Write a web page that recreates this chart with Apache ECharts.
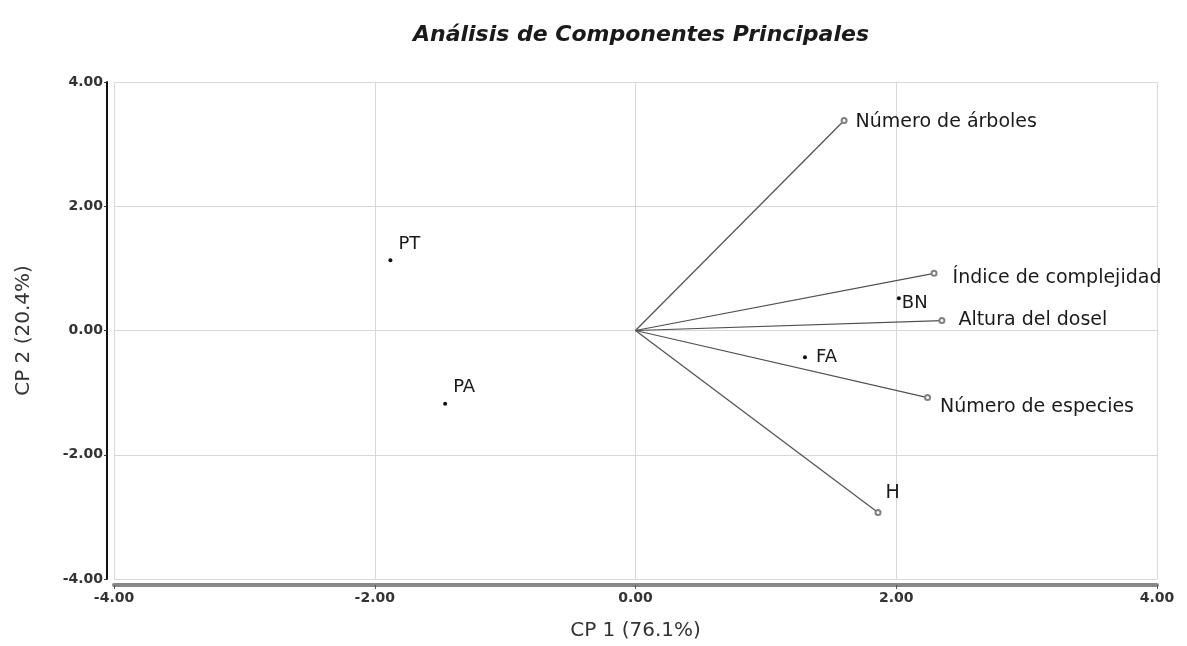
<!DOCTYPE html>
<html>
<head>
<meta charset="utf-8">
<script src="https://cdn.jsdelivr.net/npm/echarts@6/dist/echarts.min.js"></script>
<style>
html,body{margin:0;padding:0;background:#fff;}
#chart{width:1187px;height:646px;}
</style>
</head>
<body>
<div id="chart"></div>
<script>
// Observations (sites)
const obsNames = ['PT', 'PA', 'BN', 'FA'];
const obsX = [-1.88, -1.46, 2.02, 1.30];
const obsY = [1.13, -1.18, 0.52, -0.43];

// Variables (loading vectors)
const varNames = ['Número de árboles', 'Índice de complejidad', 'Altura del dosel', 'Número de especies', 'H'];
const varX = [1.60, 2.29, 2.35, 2.24, 1.86];
const varY = [3.38, 0.92, 0.16, -1.08, -2.93];

const xTicks = [-4, -2, 0, 2, 4];
const yTicks = [-4, -2, 0, 2, 4];

const obsLabelOffsets = [[1, -16], [1, -16], [-4, 5], [4, 0]];
const varLabelOffsets = [[3, 2], [10, 5], [8, 0], [4, 9], [-1, -19]];

const chart = echarts.init(document.getElementById('chart'));
const FONT = '"DejaVu Sans", "Liberation Sans", Arial, sans-serif';

const series = [];
varNames.forEach((n, i) => {
  series.push({
    type: 'line',
    name: n,
    data: [
      { value: [0, 0], symbolSize: 0, label: { show: false } },
      { value: [varX[i], varY[i]], symbolSize: 5,
        label: { show: true, position: 'right', formatter: n, offset: varLabelOffsets[i],
                 color: '#1a1a1a', fontSize: 19, fontFamily: FONT } }
    ],
    symbol: 'emptyCircle',
    showAllSymbol: true,
    lineStyle: { color: '#505050', width: 1.2 },
    itemStyle: { color: '#808080', borderWidth: 1 },
    silent: true,
    z: 2
  });
});
series.push({
  type: 'scatter',
  data: obsX.map((x, i) => ({
    value: [x, obsY[i]],
    label: { show: true, position: 'right', formatter: obsNames[i], offset: obsLabelOffsets[i],
             color: '#1a1a1a', fontSize: 18, fontFamily: FONT }
  })),
  symbol: 'circle',
  symbolSize: 4,
  itemStyle: { color: '#111', opacity: 1 },
  z: 3
});

chart.setOption({
  animation: false,
  backgroundColor: '#fff',
  title: {
    text: 'Análisis de Componentes Principales',
    left: 636, top: 19, textAlign: 'center',
    textStyle: { fontFamily: FONT, fontSize: 22, fontWeight: 'bold', fontStyle: 'italic', color: '#1a1a1a' }
  },
  grid: { left: 114, right: 30, top: 82, bottom: 67, show: false, containLabel: false, outerBoundsMode: 'none' },
  xAxis: {
    type: 'value', min: -4, max: 4, interval: 2,
    offset: 6,
    name: 'CP 1 (76.1%)', nameLocation: 'middle', nameGap: 36,
    nameTextStyle: { fontFamily: FONT, fontSize: 20, color: '#333' },
    axisLine: { show: true, onZero: false, lineStyle: { color: '#888', width: 4 } },
    axisTick: { show: true, length: 4, lineStyle: { color: '#555' } },
    axisLabel: { formatter: v => v.toFixed(2), fontFamily: FONT, fontSize: 14, fontWeight: 'bold', color: '#333', margin: 6 },
    splitLine: { show: true, lineStyle: { color: '#d8d8d8', width: 1 } }
  },
  yAxis: {
    type: 'value', min: -4, max: 4, interval: 2,
    offset: 7,
    name: 'CP 2 (20.4%)', nameLocation: 'middle', nameGap: 73, nameRotate: 90,
    nameTextStyle: { fontFamily: FONT, fontSize: 20, color: '#333' },
    axisLine: { show: true, onZero: false, lineStyle: { color: '#111', width: 2 } },
    axisTick: { show: true, length: 3, lineStyle: { color: '#333' } },
    axisLabel: { formatter: v => v.toFixed(2), fontFamily: FONT, fontSize: 14, fontWeight: 'bold', color: '#333', margin: 4 },
    splitLine: { show: true, lineStyle: { color: '#d8d8d8', width: 1 } }
  },
  series: series
});
</script>
</body>
</html>
